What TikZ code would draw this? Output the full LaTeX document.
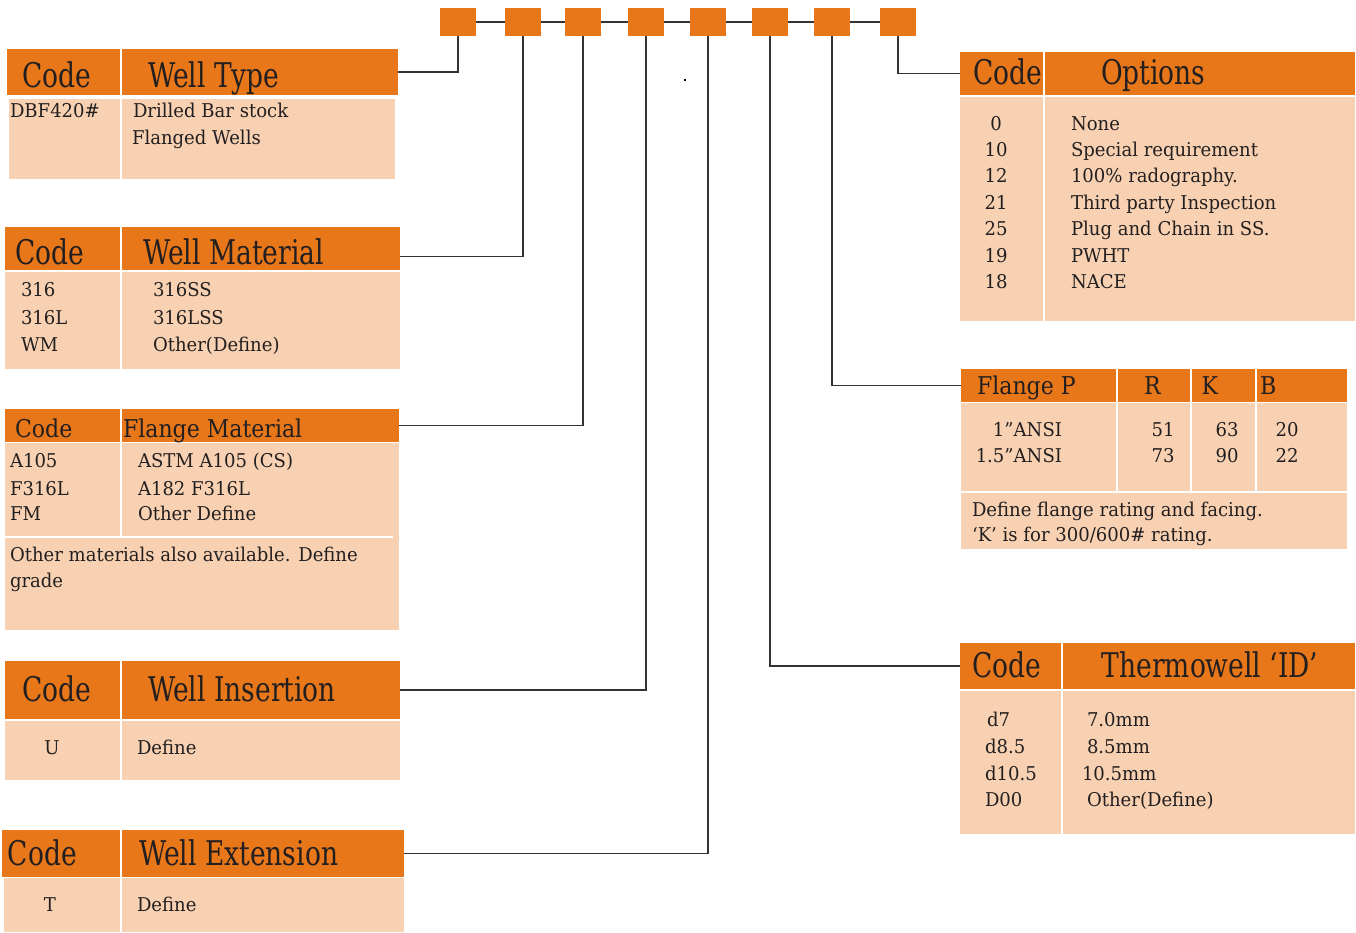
\documentclass[tikz,border=0pt]{standalone}
\usepackage{fontspec}
\setmainfont{DejaVu Serif}[FakeStretch=0.95]
\newfontfamily\headfont{DejaVu Serif}[FakeStretch=0.78]
\newfontfamily\midfont{DejaVu Serif}[FakeStretch=0.9]
\definecolor{tabhead}{HTML}{E8771A}
\definecolor{tabbody}{HTML}{F7D1B1}
\definecolor{ink}{HTML}{231F20}

\begin{document}
\begin{tikzpicture}[x=1pt,y=-1pt,
        every node/.style={inner sep=0pt, outer sep=0pt, text=ink},
        hd/.style={fill=tabhead, anchor=north west},
        sq/.style={fill=tabhead, minimum width=36pt, minimum height=28pt},
        ln/.style={black!80, line width=1.2pt},
        sep/.style={white, line width=2pt},
        big/.style={font=\headfont\fontsize{34}{40}\selectfont, anchor=base west},
        mid/.style={font=\midfont\fontsize{24.5}{28}\selectfont, anchor=base west},
        txt/.style={font=\fontsize{19}{23}\selectfont, anchor=base west}]
        \useasboundingbox (0,0) rectangle (1356,932);
        % code boxes
        \foreach \x [count=\i] in {458,523,583,646,708,770,832,898}
          \node [sq] (b\i) at (\x,22) {};
        \foreach \i [evaluate=\i as \j using int(\i+1)] in {1,...,7}
          \draw [ln] (b\i) -- (b\j);
        \fill [black] (684,79) rectangle (686,81);
        % well type
        \node [hd, minimum width=391pt, minimum height=46pt] (wtH) at (7,49) {};
        \fill [tabbody] (9,99) rectangle (395,179);
        \draw [sep] (120.5,49) -- (120.5,179);
        \node [big] (wtc) at (22,87.7) {Code};
        \node [big] (wtt) at (148,87.7) {Well Type};
        \node [txt] (wt1) at (10,117.7) {DBF420\#};
        \node [txt] (wt2) at (133,117.7) {Drilled Bar stock};
        \node [txt] (wt3) at (132,144.3) {Flanged Wells};
        % well material
        \node [hd, minimum width=395pt, minimum height=43pt] (wmH) at (5,227) {};
        \fill [tabbody] (5,272) rectangle (400,369);
        \draw [sep] (120.7,227) -- (120.7,369);
        \node [big] (wmc) at (15,264.3) {Code};
        \node [big] (wmt) at (143,264.3) {Well Material};
        \foreach \c/\d/\y [count=\i] in {316/316SS/296.7, 316L/316LSS/324.3, WM/Other(Define)/351} {
          \node [txt] (wmc\i) at (21,\y) {\c};
          \node [txt] (wmd\i) at (153,\y) {\d};
        }
        % flange material
        \node [hd, minimum width=394pt, minimum height=32.5pt] (fmH) at (5,409) {};
        \fill [tabbody] (5,443) rectangle (399,630);
        \draw [sep] (120.7,409) -- (120.7,537);
        \draw [sep] (5,537) -- (393,537);
        \node [mid] (fmc) at (15,437.7) {Code};
        \node [mid] (fmt) at (123,437.7) {Flange Material};
        \foreach \c/\d/\y [count=\i] in {A105/ASTM A105 (CS)/467.7, F316L/A182 F316L/495, FM/Other Define/520.7} {
          \node [txt] (fmc\i) at (10,\y) {\c};
          \node [txt] (fmd\i) at (138,\y) {\d};
        }
        \node [txt] (fmn1) at (10,561) {Other materials also available. Define};
        \node [txt] (fmn2) at (10,587.7) {grade};
        % well insertion
        \node [hd, minimum width=395pt, minimum height=58pt] (wiH) at (5,661) {};
        \fill [tabbody] (5,721) rectangle (400,780);
        \draw [sep] (120.7,661) -- (120.7,780);
        \node [big] (wic) at (22,701.7) {Code};
        \node [big] (wit) at (148,701.7) {Well Insertion};
        \node [txt, anchor=base] (wi1) at (52,754) {U};
        \node [txt] (wi2) at (137,754) {Define};
        % well extension
        \node [hd, minimum width=402pt, minimum height=47pt] (weH) at (2,830) {};
        \fill [tabbody] (4,878) rectangle (404,932);
        \draw [sep] (120.7,830) -- (120.7,932);
        \node [big] (wec) at (8,865) {Code};
        \node [big] (wet) at (139,865) {Well Extension};
        \node [txt, anchor=base] (we1) at (50,911.7) {T};
        \node [txt] (we2) at (137,911.7) {Define};
        % options
        \node [hd, minimum width=395pt, minimum height=43pt] (opH) at (960,52) {};
        \fill [tabbody] (960,97) rectangle (1355,321);
        \draw [sep] (1044,52) -- (1044,321);
        \node [big] (opc) at (973,84.3) {Code};
        \node [big] (opt) at (1101,84.3) {Options};
        \foreach \c/\d [count=\i from 0] in {0/None, 10/Special requirement, 12/100\% radography., 21/Third party Inspection, 25/Plug and Chain in SS., 19/PWHT, 18/NACE} {
          \node [txt, anchor=base] (opc\i) at (996,{130+26.4*\i}) {\c};
          \node [txt] (opd\i) at (1071,{130+26.4*\i}) {\d};
        }
        % flange p
        \node [hd, minimum width=386pt, minimum height=33pt] (fpH) at (961,369) {};
        \fill [tabbody] (961,403) rectangle (1347,491);
        \fill [tabbody] (961,493) rectangle (1347,549);
        \foreach \x in {1117,1191,1256}
          \draw [sep] (\x,369) -- (\x,491);
        \node [mid] (fpt) at (977,394) {Flange P};
        \node [mid] (fpr) at (1144,394) {R};
        \node [mid] (fpk) at (1201.7,394) {K};
        \node [mid] (fpb) at (1260,394) {B};
        \foreach \s/\r/\k/\b/\y [count=\i] in {1”ANSI/51/63/20/436, 1.5”ANSI/73/90/22/462.7} {
          \node [txt, anchor=base east] (fps\i) at (1062,\y) {\s};
          \node [txt, anchor=base] (fpr\i) at (1163,\y) {\r};
          \node [txt, anchor=base] (fpk\i) at (1227,\y) {\k};
          \node [txt, anchor=base] (fpb\i) at (1287,\y) {\b};
        }
        \node [txt] (fpn1) at (972,516.7) {Define flange rating and facing.};
        \node [txt] (fpn2) at (972,541.7) {‘K’ is for 300/600\# rating.};
        % thermowell id
        \node [hd, minimum width=395pt, minimum height=46pt] (twH) at (960,643) {};
        \fill [tabbody] (960,691) rectangle (1355,834);
        \draw [sep] (1062,643) -- (1062,834);
        \node [big] (twc) at (972,677.7) {Code};
        \node [big] (twt) at (1101.7,677.7) {Thermowell ‘ID’};
        \foreach \c/\cx/\d/\dx/\y [count=\i] in {d7/987/7.0mm/1087/726.7, d8.5/985/8.5mm/1087/753.3, d10.5/985/10.5mm/1082/780, D00/985/Other(Define)/1087/806.7} {
          \node [txt] (twc\i) at (\cx,\y) {\c};
          \node [txt] (twd\i) at (\dx,\y) {\d};
        }
        % connectors
        \draw [ln] (b1.south) |- (wtH.east);
        \draw [ln] (b2.south) |- ([yshift=-8pt]wmH.east);
        \draw [ln] (b3.south) |- (fmH.east);
        \draw [ln] (b4.south) |- (wiH.east);
        \draw [ln] (b5.south) |- (weH.east);
        \draw [ln] (b6.south) |- (twH.west);
        \draw [ln] (b7.south) |- (fpH.west);
        \draw [ln] (b8.south) |- (opH.west);
\end{tikzpicture}
\end{document}
